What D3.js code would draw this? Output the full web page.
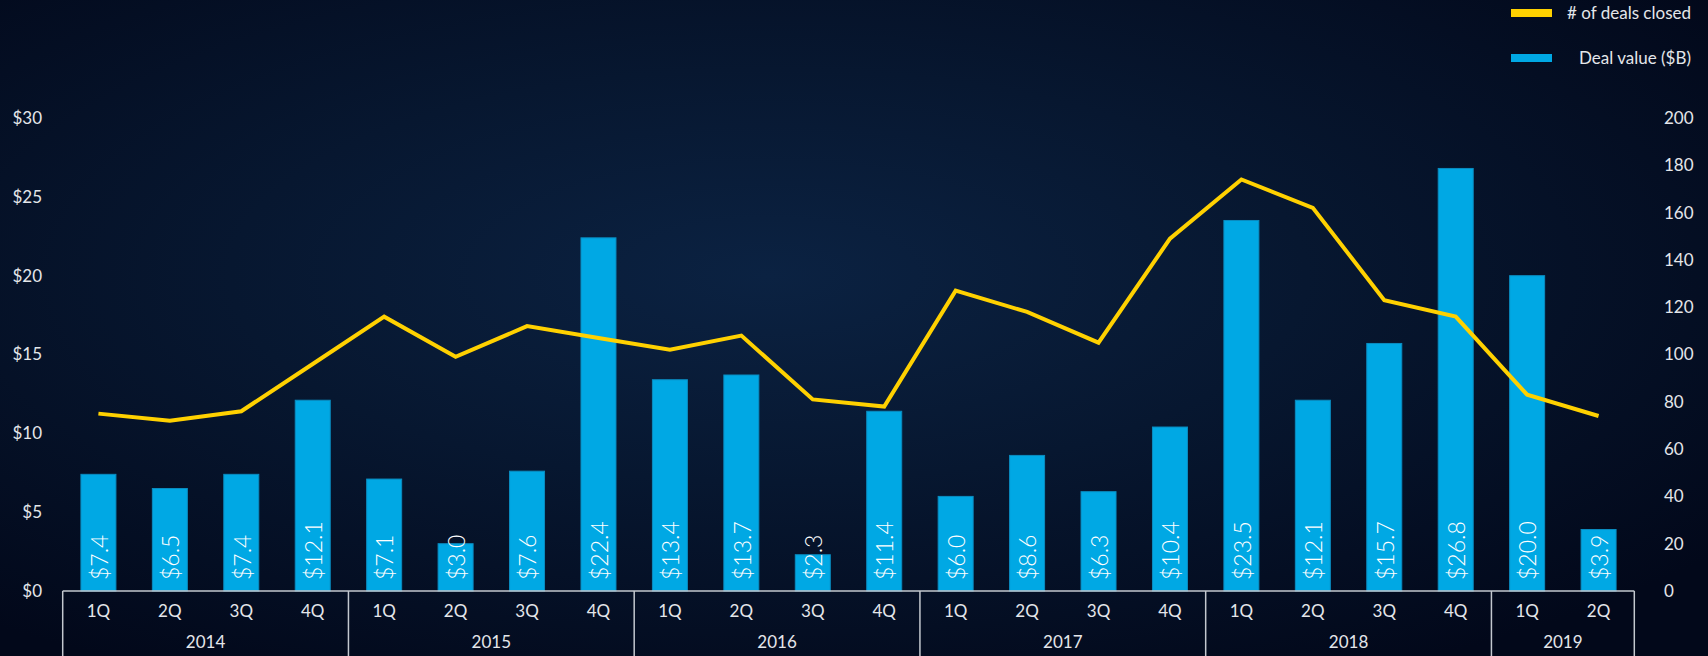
<!DOCTYPE html>
<html>
<head>
<meta charset="utf-8">
<script src="https://cdn.jsdelivr.net/npm/d3@7"></script>
<style>
  html, body { margin: 0; padding: 0; background: #040b19; overflow: hidden; }
  svg { display: block; font-family: Lato, "Noto Sans", sans-serif; }
</style>
</head>
<body>
<svg id="chart" width="1708" height="656"></svg>
<script>
const periods = ["2014 1Q","2014 2Q","2014 3Q","2014 4Q","2015 1Q","2015 2Q","2015 3Q","2015 4Q",
  "2016 1Q","2016 2Q","2016 3Q","2016 4Q","2017 1Q","2017 2Q","2017 3Q","2017 4Q",
  "2018 1Q","2018 2Q","2018 3Q","2018 4Q","2019 1Q","2019 2Q"];
const years = ["2014","2015","2016","2017","2018","2019"];
const dealValue = [7.4,6.5,7.4,12.1,7.1,3.0,7.6,22.4,13.4,13.7,2.3,11.4,6.0,8.6,6.3,10.4,23.5,12.1,15.7,26.8,20.0,3.9];
const dealsClosed = [75,72,76,96,116,99,112,107,102,108,81,78,127,118,105,149,174,162,123,116,83,74];
const leftTicks = [0,5,10,15,20,25,30];
const rightTicks = [0,20,40,60,80,100,120,140,160,180,200];
const seriesNames = ["# of deals closed", "Deal value ($B)"];

const W = 1708, H = 656;
const svg = d3.select("#chart");

// background
const defs = svg.append("defs");
const rg = defs.append("radialGradient").attr("id","bg")
  .attr("cx","45%").attr("cy","42%").attr("r","70%");
rg.append("stop").attr("offset","0%").attr("stop-color","#0b2242");
rg.append("stop").attr("offset","45%").attr("stop-color","#071730");
rg.append("stop").attr("offset","100%").attr("stop-color","#02081a");
svg.append("rect").attr("width",W).attr("height",H).attr("fill","url(#bg)");

const x = d3.scaleBand().domain(periods).range([62.7, 1634.3]).paddingInner(0.51).paddingOuter(0.255);
const yL = d3.scaleLinear().domain([0,30]).range([591,118]);
const yR = d3.scaleLinear().domain([0,200]).range([591,118]);

const txtCol = "#e4e6ea";

// left axis
const ga = svg.append("g").attr("transform","translate(42,0)")
  .call(d3.axisLeft(yL).tickValues(leftTicks).tickFormat(d => "$" + d).tickSize(0).tickPadding(0));
ga.select(".domain").remove();
ga.selectAll("text").attr("fill",txtCol).attr("font-size",17).attr("font-family","Lato, sans-serif");

// right axis
const gr = svg.append("g").attr("transform","translate(1664,0)")
  .call(d3.axisRight(yR).tickValues(rightTicks).tickSize(0).tickPadding(0));
gr.select(".domain").remove();
gr.selectAll("text").attr("fill",txtCol).attr("font-size",17).attr("font-family","Lato, sans-serif");

// bars
svg.append("g").selectAll("rect").data(periods).join("rect")
  .attr("x", d => x(d))
  .attr("width", x.bandwidth())
  .attr("y", (d,i) => yL(dealValue[i]))
  .attr("height", (d,i) => yL(0) - yL(dealValue[i]))
  .attr("fill","#00a8e4")
  .attr("stroke","#0a8cc0").attr("stroke-width",1);

// bar labels
svg.append("g").selectAll("text").data(periods).join("text")
  .attr("transform", d => `translate(${x(d) + x.bandwidth()/2 + 1},${yL(0) - 11}) rotate(-90)`)
  .attr("dy","0.36em")
  .attr("text-anchor","start")
  .attr("fill","#ffffff")
  .attr("font-size",23)
  .attr("font-weight",300)
  .text((d,i) => "$" + dealValue[i].toFixed(1));

// line
const line = d3.line()
  .x(d => x(d) + x.bandwidth()/2)
  .y((d,i) => yR(dealsClosed[i]));
svg.append("path").datum(periods)
  .attr("d", line)
  .attr("fill","none")
  .attr("stroke","#ffd100")
  .attr("stroke-width",4)
  .attr("stroke-linejoin","miter");

// bottom category box
const boxCol = "#c3c8cf";
const step = x.step();
const half = step * x.paddingInner() / 2;
const left = x.range()[0], right = x.range()[1];
const gb = svg.append("g");
gb.append("line").attr("x1",left).attr("x2",right).attr("y1",591).attr("y2",591)
  .attr("stroke",boxCol).attr("stroke-width",1.5);
const boundaries = [left];
years.forEach((y, yi) => {
  const ps = periods.filter(p => p.startsWith(y));
  const x0 = x(ps[0]) - half;
  const x1 = x(ps[ps.length-1]) + x.bandwidth() + half;
  boundaries.push(x1);
  gb.append("text").attr("x",(x0+x1)/2).attr("y",642).attr("dy","0.35em")
    .attr("text-anchor","middle").attr("fill",txtCol).attr("font-size",17).text(y);
});
gb.selectAll("line.sep").data(boundaries).join("line").attr("class","sep")
  .attr("x1",d=>d).attr("x2",d=>d).attr("y1",591).attr("y2",H)
  .attr("stroke",boxCol).attr("stroke-width",1.5);

const gq = svg.append("g").attr("transform","translate(0,605)")
  .call(d3.axisBottom(x).tickSize(0).tickPadding(0).tickFormat(d => d.split(" ")[1]));
gq.select(".domain").remove();
gq.selectAll("text").attr("fill",txtCol).attr("font-size",17).attr("font-family","Lato, sans-serif");

// legend
const lg = svg.append("g");
const legendItems = [{name: seriesNames[0], color:"#ffd100", y:13},{name: seriesNames[1], color:"#00a8e4", y:58}];
legendItems.forEach(it => {
  lg.append("rect").attr("x",1511).attr("y",it.y-4).attr("width",41).attr("height",8).attr("fill",it.color);
  lg.append("text").attr("x",1691).attr("y",it.y).attr("dy","0.35em").attr("text-anchor","end")
    .attr("fill",txtCol).attr("font-size",17).text(it.name);
});
</script>
</body>
</html>
